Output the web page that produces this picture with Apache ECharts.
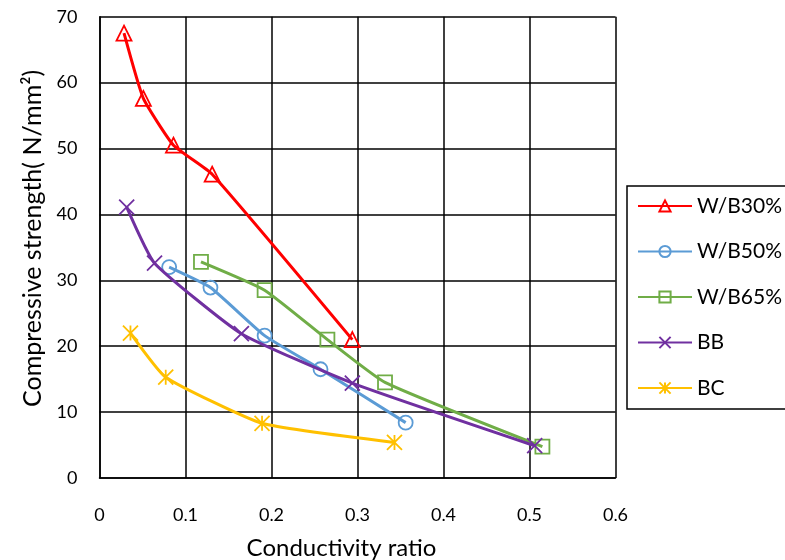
<!DOCTYPE html>
<html>
<head>
<meta charset="utf-8">
<script src="https://cdn.jsdelivr.net/npm/echarts@6/dist/echarts.min.js"></script>
<style>html,body{margin:0;padding:0;background:#fff;}#c{width:785px;height:560px;}</style>
</head>
<body>
<div id="c"></div>
<script>
const seriesNames = ['W/B30%', 'W/B50%', 'W/B65%', 'BB', 'BC'];
const wb30 = [[0.0285, 67.5], [0.051, 57.6], [0.086, 50.5], [0.131, 46.1], [0.294, 21.0]];
const wb50 = [[0.081, 32.0], [0.129, 28.9], [0.192, 21.6], [0.257, 16.5], [0.356, 8.4]];
const wb65 = [[0.118, 32.8], [0.192, 28.5], [0.265, 21.0], [0.332, 14.5], [0.515, 4.75]];
const bb = [[0.0316, 41.1], [0.064, 32.6], [0.165, 21.9], [0.294, 14.4], [0.506, 4.9]];
const bc = [[0.036, 22.0], [0.077, 15.3], [0.189, 8.3], [0.343, 5.4]];
const xTicks = [0, 0.1, 0.2, 0.3, 0.4, 0.5, 0.6];
const yTicks = [0, 10, 20, 30, 40, 50, 60, 70];

const colors = ['#FF0000', '#5B9BD5', '#70AD47', '#7030A0', '#FFC000'];
const symbols = ['triangle', 'circle', 'rect',
  'path://M0,0L10,10M10,0L0,10',
  'path://M0,0L10,10M10,0L0,10M5,0L5,10'];
const sizes = [15, 14, 14, 15, 15];
const datas = [wb30, wb50, wb65, bb, bc];

const font = 'Lato, "Open Sans", sans-serif';

const series = datas.map((d, i) => ({
  name: seriesNames[i],
  type: 'line',
  data: d,
  smooth: 0.15,
  symbol: symbols[i],
  symbolSize: sizes[i],
  color: colors[i],
  lineStyle: { color: colors[i], width: 3 },
  itemStyle: { color: 'transparent', borderColor: colors[i], borderWidth: 1.8 },
  z: 2 + i
}));

const chart = echarts.init(document.getElementById('c'), null, { renderer: 'canvas' });
chart.setOption({
  animation: false,
  backgroundColor: '#fff',
  grid: { left: 99.5, right: 169.5, top: 16.7, bottom: 82, containLabel: false, outerBoundsMode: 'none', show: false },
  xAxis: {
    type: 'value', min: xTicks[0], max: xTicks[xTicks.length - 1], interval: 0.1,
    name: 'Conductivity ratio', nameLocation: 'middle', nameGap: 58,
    nameTextStyle: { fontFamily: font, fontSize: 24, color: '#000', padding: [0, 32, 0, 0] },
    axisLine: { show: true, lineStyle: { color: '#000', width: 1.5 } },
    axisTick: { show: false },
    axisLabel: { fontFamily: font, fontSize: 18, color: '#000', margin: 28 },
    splitLine: { show: true, lineStyle: { color: '#000', width: 1.5 } }
  },
  yAxis: {
    type: 'value', min: yTicks[0], max: yTicks[yTicks.length - 1], interval: 10,
    name: 'Compressive strength( N/mm²)', nameLocation: 'middle', nameGap: 51,
    nameTextStyle: { fontFamily: font, fontSize: 25, color: '#000', padding: [0, 0, 0, 18] },
    axisLine: { show: true, lineStyle: { color: '#000', width: 1.5 } },
    axisTick: { show: false },
    axisLabel: { fontFamily: font, fontSize: 18, color: '#000', margin: 22 },
    splitLine: { show: true, lineStyle: { color: '#000', width: 1.5 } }
  },
  legend: {
    orient: 'vertical', left: 627, top: 186,
    padding: [8, 40, 9, 10],
    itemWidth: 54, itemHeight: 14, itemGap: 21.5,
    borderColor: '#000', borderWidth: 1.5,
    textStyle: { fontFamily: font, fontSize: 21, lineHeight: 24, color: '#000' },
    data: seriesNames
  },
  series: series
});
</script>
</body>
</html>
